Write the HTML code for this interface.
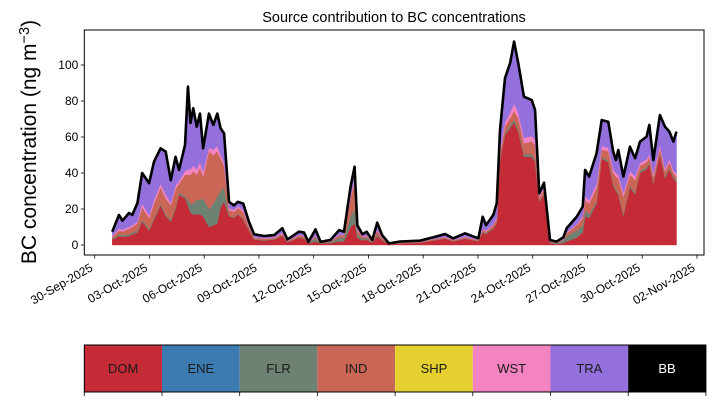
<!DOCTYPE html>
<html><head><meta charset="utf-8"><style>
body{margin:0;background:#fff;}
svg{display:block;font-family:"Liberation Sans",sans-serif;}
</style></head><body>
<svg id="chart" width="714" height="402" viewBox="0 0 714 402">
<text x="394" y="22" text-anchor="middle" font-size="14.5">Source contribution to BC concentrations</text>
<text transform="translate(36,142) rotate(-90)" text-anchor="middle" font-size="21">BC concentration (ng m<tspan dy="-7" font-size="14.5">−3</tspan><tspan dy="7">)</tspan></text>
<g id="plot"></g>
<g id="axes"></g>
<g id="cbar"></g>
</svg>
<script>
const days=[0.96,1.33,1.52,1.88,2.06,2.34,2.60,2.98,3.25,3.61,3.89,4.17,4.43,4.62,4.95,5.11,5.25,5.40,5.59,5.77,5.94,6.26,6.50,6.72,6.90,7.09,7.36,7.63,7.85,8.14,8.45,8.73,9.27,9.83,10.28,10.56,11.19,11.47,11.71,12.10,12.38,12.92,13.39,13.66,14.02,14.24,14.39,14.67,14.90,15.21,15.48,15.75,16.12,16.72,17.82,18.56,19.20,19.65,20.29,21.02,21.26,21.44,21.84,22.03,22.21,22.48,22.76,22.98,23.21,23.52,23.95,24.13,24.36,24.62,24.95,25.31,25.68,25.86,26.41,26.74,26.87,27.09,27.50,27.78,28.14,28.41,28.56,28.69,28.97,29.33,29.61,29.88,30.24,30.39,30.61,30.97,31.25,31.49,31.71,31.88];
const total=[7.4,16.7,13.5,17.8,16.7,23.3,40,34.4,46.3,53.7,51.9,36,49,41.7,55.6,88,67.8,76,65.7,73,53.7,73,66.7,73,64.8,62,24,22,24,23,13,6,5,5.5,9.3,3.1,7.4,6.9,1.7,8.7,1.7,2.8,8.3,7.4,32.4,43.5,11,6,7.4,2.8,12.4,5.5,0.9,1.9,2.4,4.3,6.1,3.7,6.5,3.7,15.7,11,16.7,23.2,64,92.6,101,113,101,82.4,80.5,75,28.7,34.6,2.8,1.9,4.3,9.3,15.7,21.3,41.7,38,51,69.4,68.5,51.9,47.2,52.8,38,54.6,48.2,57.4,60.2,66.7,47.2,72.2,65.7,63,57.4,63];
const dom=[3,5,4.5,5,6,7,13,8,14,22,16,13,20,28,26,22,18,17,17,17,16,10,11,12,21,24,16,15,17,14,8,3,2.5,3,5,1.5,4,3.5,0.8,2,0.8,1,2,2,10,12,4,2.5,3,1.2,5,2.5,0.4,0.8,1.2,2.5,3.5,2,3.5,2,7,6,9,12,47,61,65,68,63,49,49,46,24,28,1,0.5,1,2,4,7,16,15,23,48,46,33,30,28,16,32,28,40,42,45,34,50,37,42,37,35];
const flr=[0.5,1,1,1,1,1,1,1,1,1,1,1,1,1,1,3,5,6,8,8,10,10,12,15,9,8,0.5,0.5,0.5,0.5,0.5,0.3,0.3,0.3,0.3,0.2,0.3,0.3,0.1,2,0.1,0.5,2,2,6,8,2,1,1,0.3,1,0.5,0.1,0.1,0.1,0.2,0.2,0.2,0.2,0.2,0.5,0.5,0.5,0.5,1,1,1.5,1.5,1.5,1.5,1.5,1.5,0.5,0.5,0.5,0.5,1.5,3,4,4,3,2,1,1,1,1,1,1,1,1,1,1,1,1,1,1,1,1,1,1];
const ind=[1,2,2,3,3,4,7,6,8,9,9,8,10,5,12,14,16,18,14,18,12,32,27,25,18,12,3,3,3,4,2,0.8,0.7,0.7,1,0.4,1,1,0.2,1,0.2,0.4,1.5,1.5,10,15,2,1,1,0.5,2,1,0.1,0.3,0.4,0.5,0.6,0.5,0.6,0.5,1,1,1.5,2,3,4,4,5,6,6,7,8,2,2,0.5,0.3,0.5,1.5,3,4,6,6,8,4,5,6,7,8,10,6,7,3,3,3,3,3,3,3,2,2];
const wst=[0.5,1,1,1,1,1,2,1.5,2,2,2,1.5,2,1.5,2,3,3,3,3,3,3,2,3,3,2,2,1,1,1,1,0.5,0.3,0.3,0.3,0.5,0.2,0.3,0.3,0.1,0.3,0.1,0.1,0.3,0.3,1,1.5,0.5,0.3,0.3,0.1,0.5,0.3,0,0.1,0.1,0.2,0.2,0.2,0.3,0.2,0.5,0.5,0.5,1,2,2,3,4,3,3,3,3,1,1,0.1,0.1,0.2,0.5,0.5,1,2,2,2,2,2,2,2,2,2,2,2,1.5,1.5,1.5,1.5,1.5,1.5,1.5,1.5,1.5];
const yTicks=[0,20,40,60,80,100];
const dateLabels=["30-Sep-2025","03-Oct-2025","06-Oct-2025","09-Oct-2025","12-Oct-2025","15-Oct-2025","18-Oct-2025","21-Oct-2025","24-Oct-2025","27-Oct-2025","30-Oct-2025","02-Nov-2025"];
const sources=["DOM","ENE","FLR","IND","SHP","WST","TRA","BB"];
const srcColors=["#c52a37","#3b7bb1","#6d8272","#c96656","#e6d02f","#f383c1","#9470dc","#000000"];

const NS="http://www.w3.org/2000/svg";
const X0=84.3,X1=704,Y0=30,Y1=255;
const xs=d=>94.7+d*18.25;
const ys=v=>245-v*1.8;
function mk(tag,attrs,parent){const e=document.createElementNS(NS,tag);for(const k in attrs)e.setAttribute(k,attrs[k]);parent.appendChild(e);return e;}
const plot=document.getElementById('plot'),axes=document.getElementById('axes'),cbar=document.getElementById('cbar');

const layers=[dom,flr,ind,wst];
const layerNames=["area-dom","area-flr","area-ind","area-wst","area-tra"];
const layerColors=["#c52a37","#6d8272","#c96656","#f383c1","#9470dc"];
let base=days.map(()=>0);
const tops=[];
layers.forEach(arr=>{const t=base.map((b,i)=>Math.min(b+arr[i],total[i]));tops.push([base,t]);base=t;});
tops.push([base,total.slice()]);
tops.forEach((pair,li)=>{
  const [lo,hi]=pair;
  let d="M"+xs(days[0])+","+ys(lo[0]);
  days.forEach((t,i)=>{d+=" L"+xs(t).toFixed(2)+","+ys(hi[i]).toFixed(2);});
  for(let i=days.length-1;i>=0;i--)d+=" L"+xs(days[i]).toFixed(2)+","+ys(lo[i]).toFixed(2);
  const p=mk('path',{d:d+"Z",fill:layerColors[li],stroke:layerColors[li],'stroke-width':0.4},plot);
  
  
});
let ld="";
days.forEach((t,i)=>{ld+=(i?" L":"M")+xs(t).toFixed(2)+","+ys(total[i]).toFixed(2);});
const tl=mk('path',{d:ld,fill:'none',stroke:'#000','stroke-width':2.6,'stroke-linejoin':'round'},plot);



const fr=mk('rect',{x:X0,y:Y0,width:X1-X0,height:Y1-Y0,fill:'none',stroke:'#000','stroke-width':1},axes);


yTicks.forEach(v=>{
  mk('line',{x1:X0-3.5,x2:X0,y1:ys(v),y2:ys(v),stroke:'#000','stroke-width':0.8},axes);
  const t=mk('text',{x:X0-6,y:ys(v)+4,'text-anchor':'end','font-size':12},axes);
  t.textContent=v;
  
  
});
dateLabels.forEach((lab,i)=>{
  const x=xs(i*3);
  mk('line',{x1:x,x2:x,y1:Y1,y2:Y1+3.5,stroke:'#000','stroke-width':0.8},axes);
  const t=mk('text',{transform:`translate(${x-1},${Y1+15}) rotate(-30)`,'text-anchor':'end','font-size':12},axes);
  t.textContent=lab;
  
  
});

const CX=84.3,CW=77.7,CY=345,CH=47;
sources.forEach((s,i)=>{
  const r=mk('rect',{x:CX+i*CW,y:CY,width:CW,height:CH,fill:srcColors[i]},cbar);
  
  
  const t=mk('text',{x:CX+i*CW+CW/2,y:CY+CH/2+4.5,'text-anchor':'middle','font-size':13,fill:s==="BB"?"#fff":"#1a1a1a"},cbar);
  t.textContent=s;
  
  
});
for(let i=0;i<=8;i++)mk('line',{x1:CX+i*CW,x2:CX+i*CW,y1:CY+CH,y2:CY+CH+4,stroke:'#000','stroke-width':0.8},cbar);
const cf=mk('rect',{x:CX,y:CY,width:CW*8,height:CH,fill:'none',stroke:'#000','stroke-width':1},cbar);


</script>
</body></html>
